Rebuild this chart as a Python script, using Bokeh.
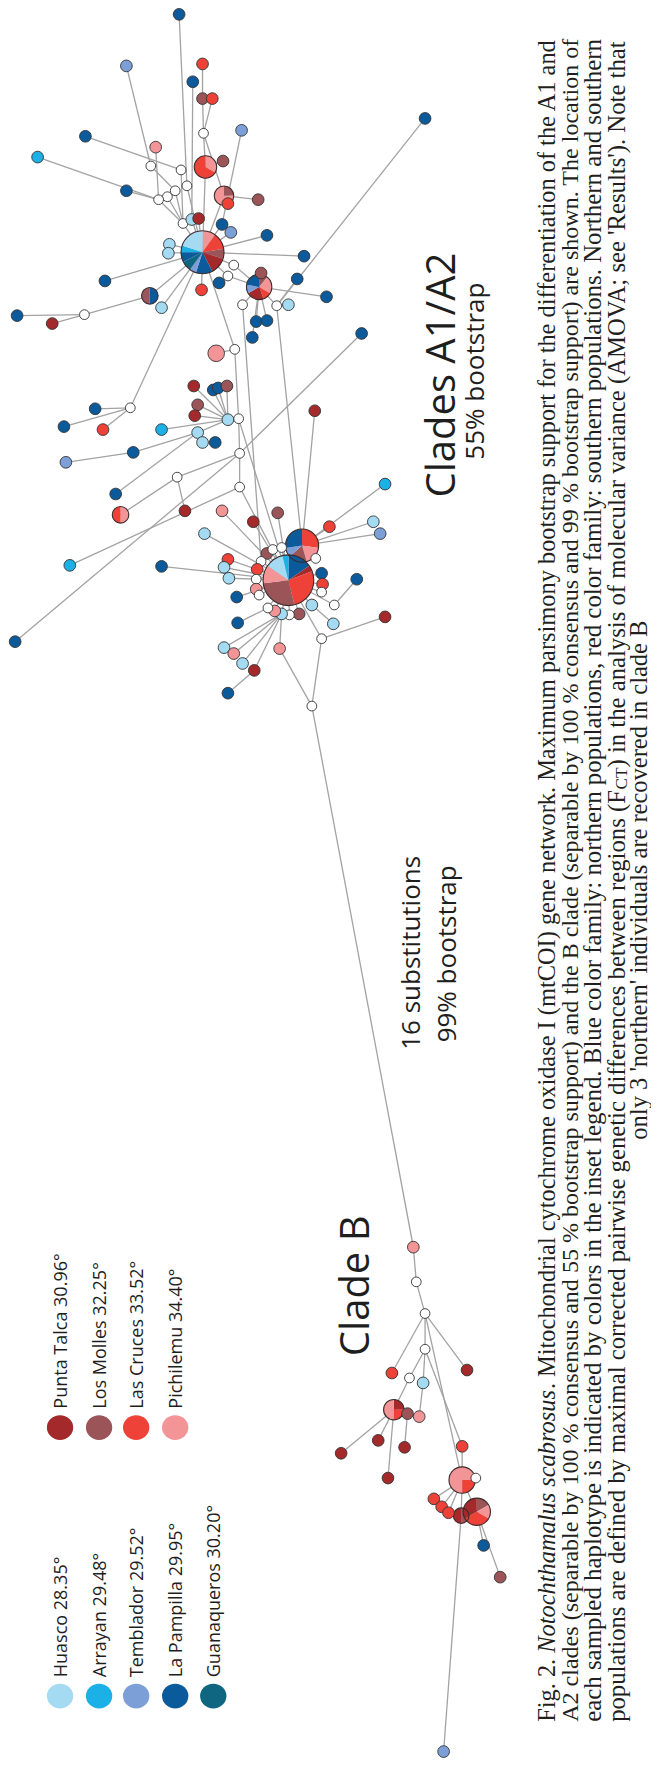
import math, os, glob, struct, subprocess
from bokeh.plotting import figure
from bokeh.models import Range1d, ColumnDataSource
from bokeh.core.properties import value, field
from bokeh.embed import file_html
from bokeh.resources import INLINE

# ---------------- data ----------------
pop_codes = ["H", "A", "T", "P", "G", "PT", "LM", "LC", "PI"]
pop_names = ["Huasco", "Arrayan", "Temblador", "La Pampilla", "Guanaqueros",
             "Punta Talca", "Los Molles", "Las Cruces", "Pichilemu"]
pop_lat = ["28.35°", "29.48°", "29.52°", "29.95°", "30.20°", "30.96°", "32.25°", "33.52°", "34.40°"]
pop_colors = ["#a4dbf3", "#1bb1e6", "#7d9fd8", "#0b5b9c", "#0f6681",
              "#a4292a", "#9b5458", "#ee4137", "#f39497"]

hap_x = [183, 129, 207, 197, 207, 217, 208, 247, 87, 159, 38, 154, 185, 228, 210, 191, 129, 179, 171, 162,
         229, 233, 264, 187, 196, 203, 227, 236, 273, 207, 173, 172, 311, 239, 233, 224, 107, 265, 267, 304,
         334, 206, 153, 165, 248, 283, 295, 86, 17, 53, 262, 273, 258, 370, 221, 240, 435, 198, 218, 223,
         232, 322, 97, 133, 65, 105, 165, 202, 199, 233, 244, 202, 207, 220, 245, 136, 67, 181, 245, 118,
         123, 189, 227, 284, 259, 394, 382, 389, 337, 209, 71, 165, 309, 295, 273, 279, 288, 233, 229, 267,
         263, 234, 262, 262, 265, 242, 323, 329, 330, 329, 365, 319, 342, 341, 306, 296, 288, 281, 274, 243,
         394, 329, 229, 239, 248, 260, 286, 233, 15, 319, 423, 426, 435, 435, 478, 401, 419, 433, 403, 417,
         429, 387, 349, 414, 397, 473, 473, 487, 444, 452, 459, 472, 488, 495, 512, 454]
hap_y = [14, 66, 64, 82, 99, 99, 134, 131, 137, 148, 158, 167, 171, 162, 168, 187, 192, 192, 198, 201,
         197, 205, 201, 225, 221, 220, 226, 234, 237, 254, 246, 255, 258, 267, 278, 285, 283, 289, 275, 281,
         299, 292, 298, 310, 307, 308, 307, 317, 318, 326, 324, 323, 340, 336, 356, 352, 119, 389, 393, 391,
         389, 414, 412, 411, 430, 433, 433, 408, 419, 423, 422, 436, 446, 446, 457, 456, 466, 481, 491, 498,
         519, 515, 515, 517, 526, 488, 526, 538, 531, 538, 570, 571, 550, 585, 558, 554, 552, 564, 572, 566,
         574, 583, 584, 594, 600, 602, 563, 578, 589, 597, 584, 610, 610, 629, 619, 620, 619, 616, 613, 628,
         622, 644, 653, 659, 669, 676, 654, 699, 647, 712, 1258, 1293, 1325, 1361, 1382, 1385, 1390, 1395, 1422, 1426,
         1429, 1453, 1466, 1460, 1491, 1459, 1493, 1491, 1512, 1520, 1526, 1529, 1525, 1559, 1591, 1767]
hap_r = [6, 6, 6, 6, 6, 6, 5, 6, 6, 6, 6, 5, 5, 6, 11.5, 5, 6, 5, 5, 5,
         10, 6, 6, 5, 6, 6, 6, 6, 6, 22, 6, 6, 6, 5, 5, 6, 6, 13, 6, 6,
         6, 6, 8.5, 6, 5, 5, 6, 5, 6, 6, 6, 6, 6, 6, 8.5, 5, 6, 6, 6, 6,
         6, 6, 6, 5, 6, 6, 6, 6, 6, 6, 5, 6, 6, 6, 5, 6, 6, 5, 5, 6,
         8.5, 6, 6, 6, 6, 6, 6, 6, 6, 6, 6, 6, 17, 26, 6, 5, 5, 6, 6, 5,
         6, 6, 5, 6, 5, 6, 5, 6, 6, 5, 6, 6, 5, 6, 6, 5, 6, 6, 5, 6,
         6, 5, 6, 6, 6, 6, 6, 6, 6, 5, 6, 5, 5, 5, 6, 6, 5, 6, 10.5, 6,
         6, 6, 6, 6, 6, 6, 13.5, 5, 6, 6, 6, 8, 14, 6, 6, 6]
hap_mix = ["P", "T", "LC", "P", "LM", "LC", "W", "T", "P", "PI", "A", "W", "W", "LM", "PI:1,LC:2", "W", "P", "W", "W", "W",
           "LM:1,PI:3", "LC", "LM", "W", "H", "PT", "P", "T", "P",
           "PI:4,LC:5,LM:3,PT:5,P:5,T:2,G:3,P:3,A:2,H:8", "H", "H", "P", "W", "W", "P", "P",
           "LM:1,PI:2,LC:1,PT:2,T:1,P:2", "LM", "P",
           "P", "LC", "P:1,LM:1", "H", "W", "W", "H", "W", "P", "PT", "P", "P", "P", "P", "PI", "W", "P", "PT", "P", "P",
           "LM", "PT", "P", "W", "P", "LC", "A", "LM", "PT", "H", "W", "H", "H", "P", "W", "P", "T", "W", "W", "P",
           "PI:1,LC:1", "PT", "PI", "LM", "PT", "A", "H", "T", "LC", "H", "A", "P",
           "LC:3,PI:2,LM:2,T:1,P:3", "P:4,PT:1,LC:7,LM:7,PI:3,H:3,A:1", "LM", "W", "W", "LC", "H", "W",
           "LC", "H", "W", "PI", "W", "P", "W", "P", "LC", "W", "P", "H", "W", "H", "LM", "W", "H", "PI", "W", "P",
           "PT", "W", "H", "PI", "H", "PT", "PI", "P", "P", "W", "PI", "W", "W", "W", "PT", "LC", "W", "H",
           "PT:1,LC:1,PI:2", "LM",
           "PI", "PT", "PT", "PT", "PT", "LC", "PI:1,LC:1,PI:2", "W", "LC", "LC", "LC", "LM:1,PT:1",
           "LM:1,PI:1,LC:2,PT:2", "P", "LM", "T"]

edge_a = [0, 1, 2, 3, 4, 5, 6, 6, 7, 8, 9, 10, 11, 12, 13, 14, 15, 16, 17, 18, 19, 20, 20, 20, 23, 24, 25, 26, 27, 28,
          30, 31, 32, 33, 33, 34, 34, 35, 36, 37, 37, 37, 39, 41, 42, 42, 43, 44, 45, 45, 46, 47, 47, 50, 51, 52, 53,
          29, 54, 55, 56, 57, 58, 59, 60, 61, 62, 63, 63, 64, 66, 67, 68, 69, 70, 71, 72, 73, 74, 75, 76, 77, 77,
          78, 78, 74, 78, 79, 82, 83, 84, 85, 86, 87, 88, 89, 91, 92, 94, 95, 96, 97, 98, 99, 100, 101, 102, 103,
          104, 105, 106, 107, 108, 109, 110, 112, 111, 113, 114, 115, 116, 117, 118, 119, 120, 121, 121, 122, 123,
          124, 125, 127, 126, 126, 129, 70,
          130, 131, 132, 132, 132, 132, 133, 133, 133, 145, 136, 137, 138, 138, 138, 139, 138, 146, 146, 146, 146,
          146, 146, 152, 152, 151]
edge_b = [15, 11, 4, 24, 6, 6, 14, 20, 26, 12, 19, 19, 17, 23, 14, 29, 29, 19, 23, 23, 23, 21, 22, 29, 29, 29, 29, 29, 29, 29,
          29, 29, 29, 29, 37, 29, 37, 34, 29, 38, 40, 44, 45, 29, 29, 47, 29, 99, 92, 37, 45, 48, 49, 37, 37, 37, 74,
          55, 55, 70, 45, 69, 69, 69, 69, 92, 63, 29, 65, 63, 69, 69, 69, 70, 74, 69, 71, 72, 77, 71, 75, 80, 81,
          74, 90, 128, 93, 71, 93, 93, 93, 92, 92, 92, 92, 93, 93, 93, 93, 93, 93, 93, 93, 93, 93, 93, 93, 93,
          93, 93, 92, 93, 93, 93, 112, 93, 93, 111, 93, 93, 93, 93, 93, 118, 121, 93, 129, 116, 116,
          116, 116, 125, 116, 129, 130, 93,
          131, 132, 133, 134, 135, 146, 136, 137, 145, 146, 138, 140, 139, 141, 142, 143, 144, 147, 148, 149, 150,
          151, 152, 153, 154, 155]

legend_rows = [["H", "A", "T", "P", "G"], ["PT", "LM", "LC", "PI"]]

label_texts = ["Clades A1/A2", "55% bootstrap", "16 substitutions", "99% bootstrap", "Clade B"]

caption_segments = [
    [("Fig. 2. ", "normal"), ("Notochthamalus scabrosus", "italic"),
     (". Mitochondrial cytochrome oxidase I (mtCOI) gene network. Maximum parsimony bootstrap support for the differentiation of the A1 and", "normal")],
    [("A2 clades (separable by 100 % consensus and 55 % bootstrap support) and the B clade (separable by 100 % consensus and 99 % bootstrap support) are shown. The location of", "normal")],
    [("each sampled haplotype is indicated by colors in the inset legend. Blue color family: northern populations, red color family: southern populations. Northern and southern", "normal")],
    [("populations are defined by maximal corrected pairwise genetic differences between regions (F", "normal"), ("CT", "sub"),
     (") in the analysis of molecular variance (AMOVA; see 'Results'). Note that", "normal")],
    [("only 3 'northern' individuals are recovered in clade B", "normal")],
]

# ---------------- font metrics (for justified caption) ----------------
def font_file(pattern, names):
    try:
        r = subprocess.run(["fc-match", "-f", "%{file}", pattern], capture_output=True, text=True, timeout=10)
        f = r.stdout.strip()
        if f and os.path.isfile(f) and os.path.basename(f) in names:
            return f
    except Exception:
        pass
    for n in names:
        for root in ("/usr/share/fonts", "/usr/local/share/fonts", os.path.expanduser("~/.fonts")):
            hits = glob.glob(os.path.join(root, "**", n), recursive=True)
            if hits:
                return hits[0]
    return None


def load_width_fn(path, fallback):
    try:
        with open(path, "rb") as fh:
            data = fh.read()
        nt = struct.unpack(">H", data[4:6])[0]
        tables = {}
        for i in range(nt):
            rec = data[12 + 16 * i: 28 + 16 * i]
            tables[rec[:4].decode("latin-1")] = struct.unpack(">I", rec[8:12])[0]
        head = tables["head"]
        upm = struct.unpack(">H", data[head + 18: head + 20])[0]
        hhea = tables["hhea"]
        nhm = struct.unpack(">H", data[hhea + 34: hhea + 36])[0]
        hm = tables["hmtx"]
        adv = struct.unpack(">%dH" % (2 * nhm), data[hm: hm + 4 * nhm])[0::2]
        cm = tables["cmap"]
        nsub = struct.unpack(">H", data[cm + 2: cm + 4])[0]
        sub = None
        for i in range(nsub):
            pid, eid, off = struct.unpack(">HHI", data[cm + 4 + 8 * i: cm + 12 + 8 * i])
            st = cm + off
            if struct.unpack(">H", data[st: st + 2])[0] == 4 and (pid == 0 or (pid == 3 and eid == 1)):
                sub = st
                break
        segx2 = struct.unpack(">H", data[sub + 6: sub + 8])[0]
        n = segx2 // 2
        o_end = sub + 14
        o_start = o_end + segx2 + 2
        o_delta = o_start + segx2
        o_ro = o_delta + segx2
        ends = struct.unpack(">%dH" % n, data[o_end: o_end + segx2])
        starts = struct.unpack(">%dH" % n, data[o_start: o_start + segx2])
        deltas = struct.unpack(">%dh" % n, data[o_delta: o_delta + segx2])
        ros = struct.unpack(">%dH" % n, data[o_ro: o_ro + segx2])

        def gid(ch):
            c = ord(ch)
            for k in range(n):
                if ends[k] >= c:
                    if starts[k] > c:
                        return 0
                    if ros[k] == 0:
                        return (c + deltas[k]) & 0xFFFF
                    addr = o_ro + 2 * k + ros[k] + 2 * (c - starts[k])
                    g = struct.unpack(">H", data[addr: addr + 2])[0]
                    return (g + deltas[k]) & 0xFFFF if g else 0
            return 0

        def width(s):
            return sum(adv[min(gid(ch), nhm - 1)] for ch in s) / upm
        width("test")
        return width
    except Exception:
        return fallback


fallback_w = lambda s: 0.44 * len(s)
reg_path = font_file("Liberation Serif", ["LiberationSerif-Regular.ttf"])
ita_path = font_file("Liberation Serif:italic", ["LiberationSerif-Italic.ttf"]) or reg_path
w_reg = load_width_fn(reg_path, fallback_w) if reg_path else fallback_w
w_ita = load_width_fn(ita_path, w_reg) if ita_path else w_reg

# ---------------- figure ----------------
REF_W, REF_H = 667, 1774
W_PX, H_PX = 651, 1758
SY = H_PX / REF_H

p = figure(width=W_PX, height=H_PX, x_range=Range1d(0, REF_W), y_range=Range1d(REF_H, 0),
           output_backend="svg", toolbar_location=None, x_axis_type=None, y_axis_type=None,
           min_border=0, outline_line_color=None, background_fill_color="white",
           border_fill_color="white")
p.grid.visible = False

color_of = dict(zip(pop_codes, pop_colors))
color_of["W"] = "#ffffff"

# edges
p.segment(x0=[hap_x[a] for a in edge_a], y0=[hap_y[a] for a in edge_a],
          x1=[hap_x[b] for b in edge_b], y1=[hap_y[b] for b in edge_b],
          line_color="#a3a3a3", line_width=1.3)

# pies and single haplotypes
wx, wy, wr, ws, we, wc = [], [], [], [], [], []
px_, py_, pr_ = [], [], []
sx_, sy_, sr_, sc_ = [], [], [], []
for i, mix in enumerate(hap_mix):
    if ":" in mix:
        parts = [(k, float(v)) for k, v in (s.split(":") for s in mix.split(","))]
        tot = sum(v for _, v in parts)
        f0 = 0.0
        for k, v in parts:
            f1 = f0 + v / tot
            wx.append(hap_x[i]); wy.append(hap_y[i]); wr.append(hap_r[i])
            ws.append(math.pi / 2 - 2 * math.pi * f1)
            we.append(math.pi / 2 - 2 * math.pi * f0)
            wc.append(color_of[k])
            f0 = f1
        px_.append(hap_x[i]); py_.append(hap_y[i]); pr_.append(hap_r[i])
    else:
        sx_.append(hap_x[i]); sy_.append(hap_y[i]); sr_.append(hap_r[i]); sc_.append(color_of[mix])

p.wedge(x=wx, y=wy, radius=wr, start_angle=ws, end_angle=we, fill_color=wc,
        line_color=None, direction="anticlock")
p.circle(x=px_, y=py_, radius=pr_, fill_color=None, line_color="#3a2a2a", line_width=1.1)
p.circle(x=sx_, y=sy_, radius=sr_, fill_color=sc_, line_color="#333333", line_width=0.9)

# legend
leg_x_cols = [61, 101, 139, 179, 218]
leg_y_rows = [1711, 1440]
lx, ly, lc, tx, ty, tt = [], [], [], [], [], []
for row, codes in enumerate(legend_rows):
    for j, code in enumerate(codes):
        k = pop_codes.index(code)
        lx.append(leg_x_cols[j]); ly.append(leg_y_rows[row]); lc.append(pop_colors[k])
        tx.append(leg_x_cols[j]); ty.append(leg_y_rows[row] - 19)
        tt.append(f"{pop_names[k]} {pop_lat[k]}")
p.ellipse(x=lx, y=ly, width=27, height=25, fill_color=lc, line_color=None)
p.text(x=tx, y=ty, text=tt, angle=math.pi / 2, text_align="left", text_baseline="middle",
       text_font=value("Open Sans"), text_font_size="18px", text_color="#1e1e1e")

# labels
lab_x = [450, 485, 420, 456, 362]
lab_y = [378, 374, 961, 962, 1297]
lab_size = ["40px", "26px", "26px", "26px", "40px"]
lab_src = ColumnDataSource(dict(x=lab_x, y=lab_y, text=label_texts, fs=lab_size))
p.text(x="x", y="y", text="text", source=lab_src, angle=math.pi / 2, text_align="center",
       text_baseline="alphabetic", text_font=value("Open Sans"),
       text_font_size=field("fs"), text_color="#1e1e1e")

# caption (justified by per-line font size)
cap_x = [559, 583, 607, 631, 654]
cap_start, cap_end = 1737, 38
L_px = (cap_start - cap_end) * SY
SUB = 0.7


def seg_em(text, style):
    if style == "italic":
        return w_ita(text)
    if style == "sub":
        return w_reg(text) * SUB
    return w_reg(text)


sizes = []
for li, segs in enumerate(caption_segments[:4]):
    em = sum(seg_em(t, s) for t, s in segs)
    sizes.append(min(27.0, max(19.0, L_px / em)))
sizes.append(sum(sizes) / len(sizes))

srcs = {"normal": dict(x=[], y=[], text=[], fs=[]), "italic": dict(x=[], y=[], text=[], fs=[]),
        "sub": dict(x=[], y=[], text=[], fs=[])}
for li, segs in enumerate(caption_segments):
    size = sizes[li]
    total_px = sum(seg_em(t, s) for t, s in segs) * size
    if li == 4:
        y0 = (cap_start + cap_end) / 2 + total_px / SY / 2
    else:
        y0 = cap_start
    acc = 0.0
    for t, s in segs:
        d = srcs[s]
        d["x"].append(cap_x[li] + (5 if s == "sub" else 0))
        d["y"].append(y0 - acc / SY)
        d["text"].append(t)
        d["fs"].append(f"{size * (SUB if s == 'sub' else 1):.2f}px")
        acc += seg_em(t, s) * size

for s, d in srcs.items():
    p.text(x="x", y="y", text="text", source=ColumnDataSource(d), angle=math.pi / 2,
           text_align="left", text_baseline="alphabetic", text_font=value("Liberation Serif"),
           text_font_style="italic" if s == "italic" else "normal",
           text_font_size=field("fs"), text_color="#231f20")

open("out.html", "w").write(file_html(p, INLINE))
